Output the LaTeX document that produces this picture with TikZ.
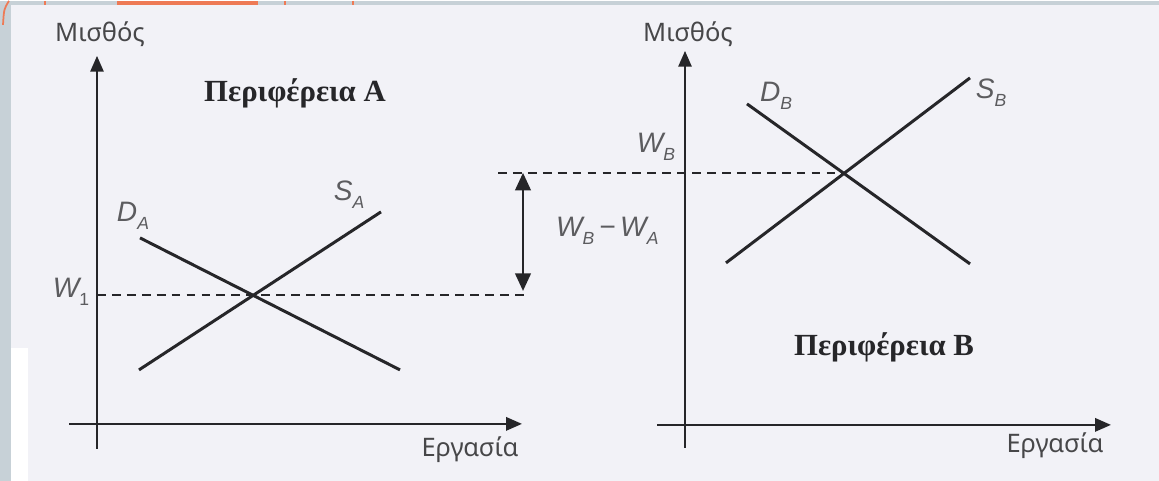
\documentclass[tikz,border=0pt]{standalone}
\usepackage{fontspec}
\setmainfont{Liberation Serif}
\newfontfamily\greeksans{Noto Sans}
\newfontfamily\lblfont{Liberation Sans}
\usetikzlibrary{arrows.meta}
\definecolor{framegray}{HTML}{C7D1D7}
\definecolor{paper}{HTML}{F2F2F7}
\definecolor{ink}{HTML}{262629}
\definecolor{slideorange}{HTML}{EE7A55}
\newcommand{\lowsub}[1]{\raisebox{-0.5ex}{\fontsize{10}{10}\selectfont #1}}

\begin{document}
\begin{tikzpicture}[x=0.02cm,y=-0.02cm,
    axis/.style={ink,line width=1.3pt,-{Triangle[length=9pt,width=7.5pt]}},
    curve/.style={ink,line width=1.7pt},
    guide/.style={ink,line width=0.8pt,dash pattern=on 5pt off 3.5pt},
    gap/.style={ink,line width=1pt,{Triangle[length=10pt,width=9pt]}-{Triangle[length=10pt,width=9pt]}},
    axislabel/.style={text=ink!85,font=\greeksans\fontsize{14.5}{14.5}\selectfont},
    region/.style={text=ink,font=\bfseries\fontsize{17.5}{17.5}\selectfont},
    curvelabel/.style={text=ink!75,font=\lblfont\itshape\fontsize{16}{16}\selectfont}]
        % Slide background
        \fill[framegray] (0,0) rectangle (1159,480);
        \fill[paper] (11,4) rectangle (1159,480);
        \fill[white] (11,347) rectangle (28,480);
        \fill[slideorange] (117,0) rectangle (258,4);
        \draw[slideorange,line width=1pt] (9,0) .. controls (4,8) .. (3,24);
        \draw[slideorange,line width=1pt] (45,0) -- (45,4);
        \draw[slideorange,line width=1pt] (285,0) -- (285,4);
        \draw[slideorange,line width=1pt] (353,0) -- (353,4);
        % Region A
        \coordinate (yAbot) at (97,448);
        \coordinate (yA) at (97,55);
        \coordinate (xAleft) at (69,423);
        \coordinate (xA) at (522,423);
        \draw[axis] (yAbot) -- (yA);
        \draw[axis] (xAleft) -- (xA);
        \node[axislabel] (wageA) at (100,33) {Μισθός};
        \node[axislabel] (labourA) at (470,449) {Εργασία};
        \node[region] (regA) at (295,92) {Περιφέρεια A};
        \coordinate (dA1) at (140,237);
        \coordinate (dA2) at (400,369);
        \coordinate (sA1) at (139,369);
        \coordinate (sA2) at (381,211);
        \coordinate (w1) at (97,294);
        \coordinate (w1end) at (528,294);
        \draw[guide] (w1) -- (w1end);
        \draw[curve] (dA1) -- (dA2);
        \draw[curve] (sA1) -- (sA2);
        \node[curvelabel] (dAlab) at (133,215) {D\lowsub{A}};
        \node[curvelabel] (sAlab) at (349,194) {S\lowsub{A}};
        \node[curvelabel] (w1lab) at (71,291) {W\lowsub{\upshape 1}};
        % Wage gap
        \coordinate (wBstart) at (498,172);
        \coordinate (eB) at (843,172);
        \coordinate (gapTop) at (523,172);
        \coordinate (gapBot) at (523,290);
        \draw[guide] (wBstart) -- (eB);
        \draw[gap] (gapTop) -- (gapBot);
        \node[curvelabel,anchor=west] (gaplab) at (550,230) {W\lowsub{B}\,−\,W\lowsub{A}};
        % Region B
        \coordinate (yBbot) at (685,447);
        \coordinate (yB) at (685,50);
        \coordinate (xBleft) at (657,424);
        \coordinate (xB) at (1111,424);
        \draw[axis] (yBbot) -- (yB);
        \draw[axis] (xBleft) -- (xB);
        \node[axislabel] (wageB) at (688,33) {Μισθός};
        \node[axislabel] (labourB) at (1055,445) {Εργασία};
        \node[region] (regB) at (884,346) {Περιφέρεια B};
        \coordinate (dB1) at (747,103);
        \coordinate (dB2) at (970,263);
        \coordinate (sB1) at (726,262);
        \coordinate (sB2) at (970,77);
        \draw[curve] (dB1) -- (dB2);
        \draw[curve] (sB1) -- (sB2);
        \node[curvelabel] (dBlab) at (776,95) {D\lowsub{B}};
        \node[curvelabel] (sBlab) at (991,92) {S\lowsub{B}};
        \node[curvelabel] (wBlab) at (656,146) {W\lowsub{B}};
\end{tikzpicture}
\end{document}
